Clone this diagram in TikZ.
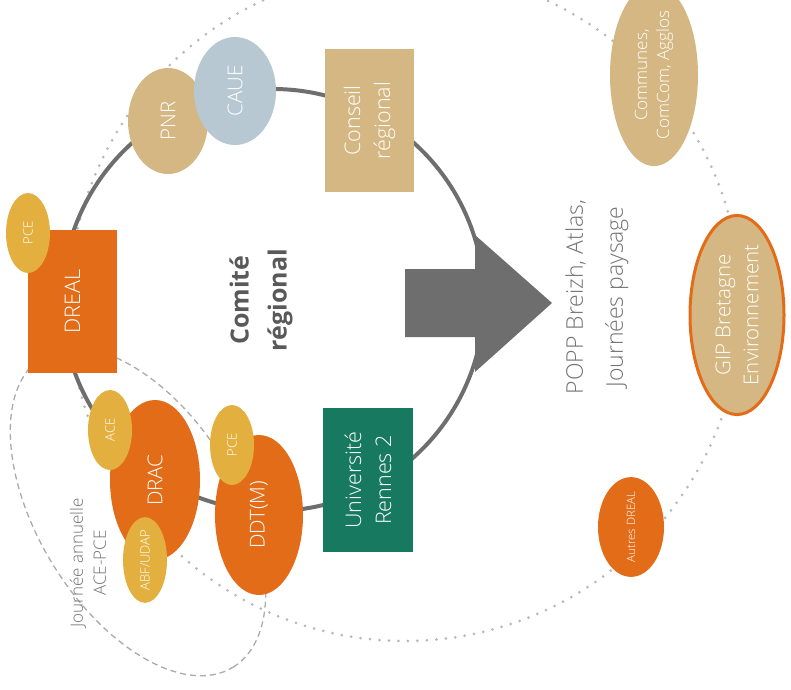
\documentclass[tikz,border=0pt]{standalone}
\usepackage{fontspec}
\setmainfont{Open Sans Light}[BoldFont={Open Sans Bold}]
\usetikzlibrary{shapes.geometric}
\definecolor{orng}{HTML}{E36C18}
\definecolor{gold}{HTML}{E3B040}
\definecolor{tanc}{HTML}{D4B783}
\definecolor{steel}{HTML}{B7C8D2}
\definecolor{uteal}{HTML}{17795F}
\definecolor{ring}{HTML}{6E6E6E}
\definecolor{dotc}{HTML}{B8B8B8}
\definecolor{dashc}{HTML}{ABABAB}
\definecolor{txtgrey}{HTML}{737373}
\definecolor{boldgrey}{HTML}{595959}
\newcommand\myfs[2]{\fontsize{#1}{#2}\selectfont}
\begin{document}
\begin{tikzpicture}[x=1pt,y=-1pt,
  lab/.style={rotate=90, inner sep=0pt, text=white, align=center},
  ov/.style 2 args={lab, ellipse, minimum height=#1pt, minimum width=#2pt},
  bx/.style 2 args={lab, rectangle, minimum height=#1pt, minimum width=#2pt},
  big/.style={font=\myfs{21.5}{30}},
  mid/.style={font=\myfs{20.5}{28}},
  small/.style={font=\myfs{13}{15}},
  dotline/.style={dotc, line width=3pt, line cap=round, dash pattern=on 0pt off 9.5pt},
  dashline/.style={dashc, line width=1.3pt, dash pattern=on 6pt off 4pt},
  ringline/.style={ring, line width=4pt},
  plain/.style={rotate=90, inner sep=0pt, align=center, text=txtgrey}]
\path[use as bounding box] (0,0) rectangle (791,689);
\clip (0,0) rectangle (791,689);
% outer dotted circle
\draw[dotline] (405,305) circle [radius=336pt];
% dashed ellipse (Journee annuelle)
\draw[dashline, rotate around={-58.5:(138,512)}] (138,512) ellipse [x radius=182pt, y radius=100pt];
% comite ring
\draw[ringline] (273,300) circle [radius=211pt];
% big arrow
\fill[ring] (405,269) -- (475,269) -- (475,235) -- (552,303) -- (475,372) -- (475,337) -- (405,337) -- cycle;
% nodes
\node[bx={89}{143}, big, fill=orng] (dreal) at (72.5,301.5) {DREAL};
\node[ov={44}{80}, small, fill=gold] (pce1) at (28,233) {PCE};
\node[ov={80}{106}, mid, fill=tanc] (pnr) at (168,121) {PNR};
\node[ov={82}{108}, mid, fill=steel] (caue) at (235,91) {CAUE};
\node[bx={89}{143}, big, fill=tanc] (conseil) at (369.5,120.5) {Conseil\\régional};
\node[bx={90}{144}, big, fill=uteal] (univ) at (368,480) {Université\\Rennes 2};
\node[ov={90}{160}, mid, fill=orng] (drac) at (155,480) {DRAC};
\node[ov={44}{80}, small, fill=gold] (ace) at (110,430) {ACE};
\node[ov={44}{80}, small, fill=gold] (abf) at (145,560) {ABF/UDAP};
\node[ov={88}{160}, mid, fill=orng] (ddt) at (259,515) {DDT(M)};
\node[ov={44}{80}, small, fill=gold] (pce2) at (232,445) {PCE};
\node[ov={88}{154}, font=\myfs{17}{22}, fill=tanc] (communes) at (654,75) {Communes,\\ComCom, Agglos};
\node[ov={94}{166}, mid, fill=tanc, draw=orng, line width=3pt] (gip) at (737,315) {GIP Bretagne\\Environnement};
\node[ov={66}{92}, font=\myfs{11.5}{13}, fill=orng] (autres) at (631,527) {Autres DREAL};
\node[plain, text=boldgrey, font=\myfs{25}{38}\bfseries] (comite) at (261,300) {Comité\\régional};
\node[plain, font=\myfs{23}{40}] (popp) at (597,297) {POPP Breizh, Atlas,\\Journées paysage};
\node[plain, font=\myfs{17}{23}] (journee) at (88,563) {Journée annuelle\\ACE-PCE};
\end{tikzpicture}
\end{document}
